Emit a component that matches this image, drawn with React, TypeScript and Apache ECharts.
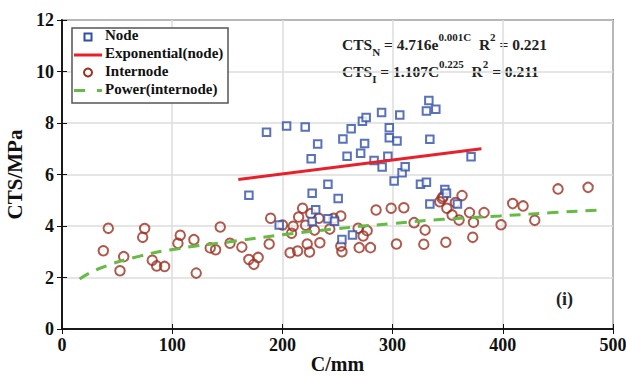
import React, { useEffect, useRef } from "react";
import * as echarts from "echarts";

const nodeC = [169.6, 185.6, 197.1, 203.8, 220.7, 226.1, 227, 227, 230.2, 232, 241.3, 241.4, 247.3, 250.6, 254, 254.9, 258.7, 262.4, 263.6, 271, 272.6, 274.6, 276, 283.2, 290, 290.5, 295.7, 297, 297, 301.4, 304, 306.5, 308.6, 311.4, 325.3, 330.7, 330.7, 332.9, 333.8, 333.8, 339.2, 347.4, 348.9, 358.8, 371.2];
const nodeCTS = [5.19, 7.64, 4.04, 7.88, 7.84, 6.61, 5.27, 4.17, 4.63, 7.18, 5.62, 4.28, 4.18, 5.07, 3.48, 7.38, 6.71, 7.78, 3.65, 6.83, 8.07, 7.2, 8.21, 6.54, 8.41, 6.29, 6.71, 7.82, 7.43, 5.75, 7.3, 8.31, 6.07, 6.3, 5.62, 5.7, 8.47, 8.87, 7.37, 4.85, 8.53, 5.42, 5.27, 4.85, 6.69];

const interC = [37.5, 42, 52.6, 56, 73.2, 75, 81.9, 85.9, 93.1, 105.2, 107.3, 119.7, 121.8, 134.5, 139.4, 143.6, 152.4, 163.2, 169.6, 174.1, 178, 188, 189.3, 200.1, 207, 208.3, 209.8, 213.8, 214.7, 218.3, 221, 222.5, 224.6, 225.8, 229.2, 233.1, 234, 243, 246.4, 253, 253, 254, 268.7, 269.7, 273.3, 276.9, 279.9, 285, 298.7, 303.5, 310.2, 319.5, 329.5, 328.3, 342.8, 345, 345.8, 349.2, 348.3, 354, 357, 360.3, 363, 369.8, 373.4, 372.7, 383, 398.4, 409, 418.4, 429, 450.1, 477.4];
const interCTS = [3.04, 3.91, 2.26, 2.81, 3.56, 3.9, 2.67, 2.45, 2.43, 3.33, 3.64, 3.47, 2.17, 3.15, 3.08, 3.96, 3.33, 3.18, 2.7, 2.51, 2.78, 3.3, 4.3, 4.04, 2.96, 3.72, 3.99, 3.03, 4.35, 4.69, 4.03, 3.3, 2.99, 4.48, 3.84, 4.3, 3.35, 3.88, 4.3, 4.39, 3.22, 3.0, 3.91, 3.16, 3.61, 3.82, 3.16, 4.62, 4.69, 3.3, 4.71, 4.13, 3.84, 3.29, 4.94, 5.07, 5.14, 4.69, 3.37, 4.43, 4.91, 4.23, 5.18, 4.52, 4.14, 3.56, 4.52, 4.05, 4.87, 4.78, 4.22, 5.44, 5.5];

const expC = [160, 380.6];
const expCTS = [5.81, 7.0];

const powC = [16, 34.5, 70.7, 107, 149.4, 203.8, 246, 300.5, 345.8, 397.2, 445.6, 489.5];
const powCTS = [1.94, 2.36, 2.83, 3.13, 3.37, 3.68, 3.88, 4.1, 4.26, 4.39, 4.52, 4.62];

const legendNames = ["Node", "Exponential(node)", "Internode", "Power(internode)"];

const FONT = "Liberation Serif, Times New Roman, serif";
const BLUE = "#2f4fa8";
const RED = "#e8202a";
const BROWN = "#9c3020";
const GREEN = "#66bb44";

const zip = (a: number[], b: number[]) => a.map((v, i) => [v, b[i]]);

export default function App() {
  const ref = useRef<HTMLDivElement>(null);
  useEffect(() => {
    if (!ref.current) return;
    const chart = echarts.init(ref.current, undefined, { renderer: "svg" });
    const labelStyle = { fontFamily: FONT, fontWeight: "bold" as const, fontSize: 18, color: "#111" };
    const baseRich = {
      b: { fontFamily: FONT, fontWeight: "bold", fontSize: 15.5, fill: "#222", lineHeight: 26, verticalAlign: "middle" },
      sub: { fontFamily: FONT, fontWeight: "bold", fontSize: 11, fill: "#222", lineHeight: 11, verticalAlign: "bottom" },
      sup: { fontFamily: FONT, fontWeight: "bold", fontSize: 11, fill: "#222", lineHeight: 11, verticalAlign: "top" },
    };
    const legendText = (i: number, y: number) => ({
      type: "text",
      left: 105,
      top: y - 9,
      z: 101,
      style: { text: legendNames[i], fontFamily: FONT, fontWeight: "bold", fontSize: 15, fill: "#111" },
    });
    chart.setOption({
      animation: false,
      backgroundColor: "#fff",
      grid: {
        left: 62,
        right: 13,
        top: 20,
        bottom: 48,
        containLabel: false,
        outerBoundsMode: "none",
        show: true,
        borderColor: "#111",
        borderWidth: 1.5,
      },
      xAxis: [
        {
          type: "value",
          min: 0,
          max: 500,
          interval: 100,
          axisLine: { show: true, lineStyle: { color: "#111", width: 1.5 } },
          axisTick: { show: true, inside: true, length: 5, lineStyle: { color: "#111" } },
          axisLabel: { ...labelStyle, margin: 7 },
          splitLine: { show: true, lineStyle: { color: "#dddddd", width: 1.5 } },
          name: "C/mm",
          nameLocation: "middle",
          nameGap: 25,
          nameMoveOverlap: false,
          nameTextStyle: { fontFamily: FONT, fontWeight: "bold", fontSize: 20, color: "#111", lineHeight: 20 },
        },
        {
          type: "value",
          position: "top",
          min: 0,
          max: 500,
          interval: 100,
          axisLine: { show: true, lineStyle: { color: "#111", width: 1.5 } },
          axisTick: { show: true, inside: true, length: 5, lineStyle: { color: "#111" } },
          axisLabel: { show: false },
          splitLine: { show: false },
        },
      ],
      yAxis: [
        {
          type: "value",
          min: 0,
          max: 12,
          interval: 2,
          axisLine: { show: true, lineStyle: { color: "#111", width: 1.5 } },
          axisTick: { show: true, inside: true, length: 5, lineStyle: { color: "#111" } },
          axisLabel: { ...labelStyle, margin: 8 },
          splitLine: { show: true, lineStyle: { color: "#dddddd", width: 1.5 } },
          name: "CTS/MPa",
          nameLocation: "middle",
          nameGap: 31,
          nameTextStyle: { fontFamily: FONT, fontWeight: "bold", fontSize: 21, color: "#111" },
        },
        {
          type: "value",
          position: "right",
          min: 0,
          max: 12,
          interval: 2,
          axisLine: { show: true, lineStyle: { color: "#111", width: 1.5 } },
          axisTick: { show: true, inside: true, length: 5, lineStyle: { color: "#111" } },
          axisLabel: { show: false },
          splitLine: { show: false },
        },
      ],
      series: [
        {
          name: legendNames[0],
          type: "scatter",
          symbol: "rect",
          symbolSize: 7.5,
          itemStyle: { color: "#ffffff", borderColor: BLUE, borderWidth: 2 },
          data: zip(nodeC, nodeCTS),
          z: 3,
        },
        {
          name: legendNames[1],
          type: "line",
          symbol: "none",
          lineStyle: { color: RED, width: 3 },
          data: zip(expC, expCTS),
          z: 4,
        },
        {
          name: legendNames[2],
          type: "scatter",
          symbol: "circle",
          symbolSize: 9.5,
          itemStyle: { color: "rgba(255,255,255,0)", borderColor: BROWN, borderWidth: 2 },
          data: zip(interC, interCTS),
          z: 2,
        },
        {
          name: legendNames[3],
          type: "line",
          symbol: "none",
          smooth: true,
          lineStyle: { color: GREEN, width: 3, type: [11, 8] },
          data: zip(powC, powCTS),
          z: 4,
        },
      ],
      graphic: [
        {
          type: "rect",
          z: 100,
          shape: { x: 72, y: 28, width: 156, height: 75 },
          style: { fill: "#fff", stroke: "#555", lineWidth: 1.5 },
        },
        {
          type: "rect",
          z: 101,
          shape: { x: 84.5, y: 33.5, width: 7, height: 7 },
          style: { fill: "#fff", stroke: BLUE, lineWidth: 2 },
        },
        legendText(0, 36),
        {
          type: "line",
          z: 101,
          shape: { x1: 74, y1: 55, x2: 102, y2: 55 },
          style: { stroke: RED, lineWidth: 3 },
        },
        legendText(1, 54),
        {
          type: "circle",
          z: 101,
          shape: { cx: 88, cy: 72.5, r: 4 },
          style: { fill: "#fff", stroke: BROWN, lineWidth: 2 },
        },
        legendText(2, 72),
        {
          type: "line",
          z: 101,
          shape: { x1: 74, y1: 90.5, x2: 102, y2: 90.5 },
          style: { stroke: GREEN, lineWidth: 3, lineDash: [11, 12] },
        },
        legendText(3, 90),
        {
          type: "text",
          left: 342,
          top: 31,
          style: {
            text: "{b|CTS}{sub|N}{b| = 4.716e}{sup|0.001C}{b|  R}{sup|2}{b| = 0.221}",
            rich: baseRich,
          },
        },
        {
          type: "text",
          left: 342,
          top: 58,
          style: {
            text: "{b|CTS}{sub|I}{b| = 1.107C}{sup|0.225}{b|  R}{sup|2}{b| = 0.211}",
            rich: baseRich,
          },
        },
        {
          type: "text",
          left: 556,
          top: 290,
          style: { text: "(i)", fontFamily: FONT, fontWeight: "bold", fontSize: 18, fill: "#222" },
        },
      ],
    });
    return () => chart.dispose();
  }, []);
  return <div ref={ref} style={{ width: 626, height: 377, position: "absolute", left: 0, top: 0 }} />;
}
